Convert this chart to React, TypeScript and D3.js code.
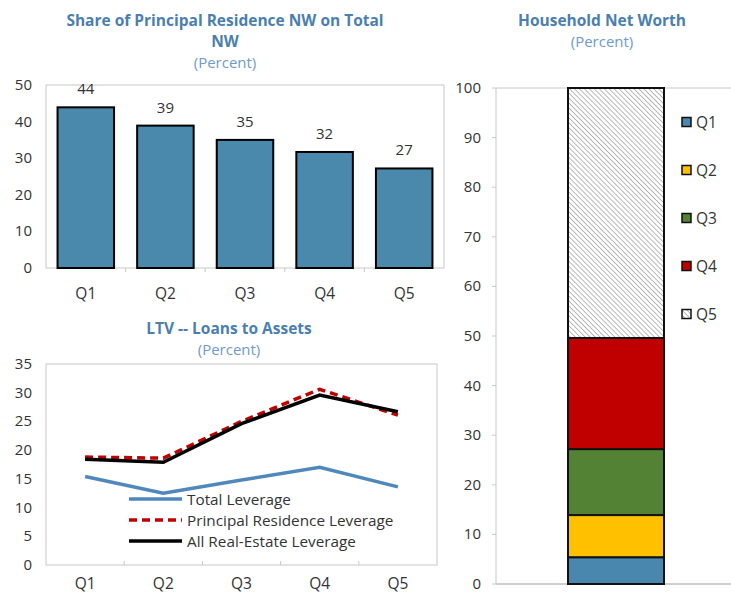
import React, { useEffect, useRef } from 'react';
import * as d3 from 'd3';

const quintiles = ["Q1", "Q2", "Q3", "Q4", "Q5"];

// Share of principal residence NW on total NW
const principalShare = [43.9, 38.9, 35.0, 31.7, 27.2];

// LTV lines
const totalLeverage = [15.4, 12.5, 14.8, 17.0, 13.6];
const principalLeverage = [18.8, 18.6, 25.0, 30.6, 26.1];
const realEstateLeverage = [18.4, 17.9, 24.6, 29.6, 26.7];
const lineNames = ["Total Leverage", "Principal Residence Leverage", "All Real-Estate Leverage"];

// Household net worth by quintile (stacked)
const netWorth = [5.4, 8.5, 13.3, 22.4, 50.4];
const stackColors = ["#4A87AE", "#FFC000", "#548235", "#C00000", "url(#hatch)"];

const TITLE = "#4A7FB0";
const SUB = "#6E9BCB";
const TXT = "#333";
const GRID = "#C8C8C8";
const FONT = "'Open Sans', 'Noto Sans', sans-serif";

const App: React.FC = () => {
  const svgRef = useRef<SVGSVGElement>(null);

  useEffect(() => {
    document.body.style.margin = "0";
    if (!svgRef.current) return;
    const svg = d3.select(svgRef.current);
    svg.selectAll("*").remove();
    svg.style("font-family", FONT);

    const defs = svg.append("defs");
    const pat = defs.append("pattern")
      .attr("id", "hatch")
      .attr("patternUnits", "userSpaceOnUse")
      .attr("width", 3.5).attr("height", 3.5)
      .attr("patternTransform", "rotate(-45)");
    pat.append("rect").attr("width", 3.5).attr("height", 3.5).attr("fill", "#fff");
    pat.append("line").attr("x1", 0).attr("y1", 0).attr("x2", 0).attr("y2", 3.5)
      .attr("stroke", "#9C9C9C").attr("stroke-width", 1.4);

    const title = (x: number, lines: string[], y0: number, sub: number) => {
      lines.forEach((t, i) => {
        svg.append("text").attr("x", x).attr("y", y0 + i * 21)
          .attr("text-anchor", "middle").attr("font-size", 15.5).attr("font-weight", 700)
          .attr("fill", TITLE).text(t);
      });
      svg.append("text").attr("x", x).attr("y", sub)
        .attr("text-anchor", "middle").attr("font-size", 15)
        .attr("fill", SUB).text("(Percent)");
    };

    // ---------- Top left: bar chart ----------
    title(225, ["Share of Principal Residence NW on Total", "NW"], 26, 68);
    const b = { left: 46, right: 444, top: 85, bottom: 268 };
    const xb = d3.scaleBand().domain(quintiles).range([b.left, b.right]).paddingInner(0.29).paddingOuter(0.145);
    const yb = d3.scaleLinear().domain([0, 50]).range([b.bottom, b.top]);

    svg.append("rect").attr("x", b.left).attr("y", b.top)
      .attr("width", b.right - b.left).attr("height", b.bottom - b.top)
      .attr("fill", "none").attr("stroke", GRID);

    yb.ticks(5).forEach(t => {
      svg.append("text").attr("x", 32).attr("y", yb(t) + 5)
        .attr("text-anchor", "end").attr("font-size", 15).attr("fill", TXT).text(t);
    });
    const step = (b.right - b.left) / quintiles.length;
    for (let i = 1; i < quintiles.length; i++) {
      svg.append("line").attr("x1", b.left + step * i).attr("x2", b.left + step * i)
        .attr("y1", b.bottom).attr("y2", b.bottom + 4).attr("stroke", GRID);
    }
    quintiles.forEach((q, i) => {
      svg.append("text").attr("x", xb(q)! + xb.bandwidth() / 2).attr("y", 299)
        .attr("text-anchor", "middle").attr("font-size", 15.5).attr("fill", TXT).text(q);
      svg.append("rect").attr("x", xb(q)!).attr("y", yb(principalShare[i]))
        .attr("width", xb.bandwidth()).attr("height", b.bottom - yb(principalShare[i]))
        .attr("fill", "#4A89AC").attr("stroke", "#000").attr("stroke-width", 2);
      svg.append("text").attr("x", xb(q)! + xb.bandwidth() / 2).attr("y", yb(principalShare[i]) - 13)
        .attr("text-anchor", "middle").attr("font-size", 15).attr("fill", TXT)
        .text(d3.format(".0f")(principalShare[i]));
    });

    // ---------- Bottom left: line chart ----------
    title(229, ["LTV -- Loans to Assets"], 334, 355);
    const l = { left: 46, right: 437, top: 364, bottom: 565 };
    const xl = d3.scalePoint().domain(quintiles).range([l.left, l.right]).padding(0.5);
    const yl = d3.scaleLinear().domain([0, 35]).range([l.bottom, l.top]);

    svg.append("rect").attr("x", l.left).attr("y", l.top)
      .attr("width", l.right - l.left).attr("height", l.bottom - l.top)
      .attr("fill", "none").attr("stroke", GRID);
    yl.ticks(7).forEach(t => {
      svg.append("text").attr("x", 32).attr("y", yl(t) + 5)
        .attr("text-anchor", "end").attr("font-size", 15).attr("fill", TXT).text(t);
    });
    const lstep = (l.right - l.left) / quintiles.length;
    for (let i = 1; i < quintiles.length; i++) {
      svg.append("line").attr("x1", l.left + lstep * i).attr("x2", l.left + lstep * i)
        .attr("y1", l.bottom).attr("y2", l.bottom - 4).attr("stroke", GRID);
    }
    quintiles.forEach(q => {
      svg.append("text").attr("x", xl(q)!).attr("y", 589)
        .attr("text-anchor", "middle").attr("font-size", 15.5).attr("fill", TXT).text(q);
    });

    const series = [
      { vals: totalLeverage, color: "#4F88BC", dash: null },
      { vals: principalLeverage, color: "#C00000", dash: "8,5" },
      { vals: realEstateLeverage, color: "#000", dash: null },
    ];
    const line = d3.line<number>().x((_, i) => xl(quintiles[i])!).y(d => yl(d));
    series.forEach((s, i) => {
      svg.append("path").datum(s.vals).attr("d", line)
        .attr("fill", "none").attr("stroke", s.color).attr("stroke-width", 3.5)
        .attr("stroke-dasharray", s.dash);
      const ly = 499 + i * 21;
      svg.append("line").attr("x1", 129).attr("x2", 182).attr("y1", ly).attr("y2", ly)
        .attr("stroke", s.color).attr("stroke-width", 3.5).attr("stroke-dasharray", s.dash);
      svg.append("text").attr("x", 187).attr("y", ly + 5.5)
        .attr("font-size", 15.3).attr("fill", TXT).text(lineNames[i]);
    });

    // ---------- Right: stacked bar ----------
    title(602, ["Household Net Worth"], 26, 47);
    const r = { left: 496, right: 745, top: 88, bottom: 584 };
    const yr = d3.scaleLinear().domain([0, 100]).range([r.bottom, r.top]);

    svg.append("line").attr("x1", r.left).attr("x2", r.right).attr("y1", r.top).attr("y2", r.top).attr("stroke", GRID);
    svg.append("line").attr("x1", r.left).attr("x2", r.right).attr("y1", r.bottom).attr("y2", r.bottom).attr("stroke", "#BFBFBF").attr("stroke-width", 1.5);
    svg.append("line").attr("x1", r.left).attr("x2", r.left).attr("y1", r.top).attr("y2", r.bottom).attr("stroke", GRID);
    yr.ticks(10).forEach(t => {
      svg.append("line").attr("x1", r.left - 4).attr("x2", r.left).attr("y1", yr(t)).attr("y2", yr(t)).attr("stroke", GRID);
      svg.append("text").attr("x", 481).attr("y", yr(t) + 5)
        .attr("text-anchor", "end").attr("font-size", 15).attr("fill", TXT).text(t);
    });

    const barX = 568, barW = 96;
    const stacked = d3.cumsum(netWorth);
    netWorth.forEach((v, i) => {
      const y1 = yr(stacked[i]);
      const y0 = yr(stacked[i] - v);
      svg.append("rect").attr("x", barX).attr("y", y1).attr("width", barW).attr("height", y0 - y1)
        .attr("fill", stackColors[i]).attr("stroke", "#111").attr("stroke-width", 2);
    });

    quintiles.forEach((q, i) => {
      const ly = 122 + i * 48;
      svg.append("rect").attr("x", 682).attr("y", ly - 4.5).attr("width", 9).attr("height", 9)
        .attr("fill", stackColors[i]).attr("stroke", "#111").attr("stroke-width", 1.5);
      svg.append("text").attr("x", 696).attr("y", ly + 5.5)
        .attr("font-size", 15.5).attr("fill", TXT).text(q);
    });
  }, []);

  return <svg ref={svgRef} width={731} height={595} style={{ display: "block", background: "#fff" }} />;
};

export default App;
